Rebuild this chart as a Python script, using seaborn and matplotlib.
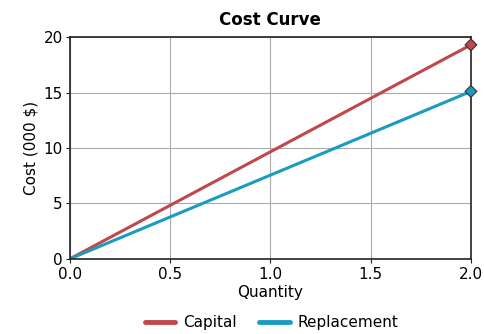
import pandas as pd
import matplotlib
matplotlib.use("Agg")
import matplotlib.pyplot as plt
import seaborn as sns

quantity = [0.0, 2.0]
capital = [0.0, 19.3]
replacement = [0.0, 15.1]
series_names = ["Capital", "Replacement"]
colors = {"Capital": "#c0474a", "Replacement": "#1a9bbf"}

df = pd.DataFrame({
    "Quantity": quantity * 2,
    "Cost": capital + replacement,
    "Series": [series_names[0]] * len(quantity) + [series_names[1]] * len(quantity),
})

sns.set_style("white")
plt.rcParams['font.family'] = ['DejaVu Sans']
plt.rcParams['text.color'] = 'black'
plt.rcParams['axes.labelcolor'] = 'black'
plt.rcParams['xtick.color'] = 'black'
plt.rcParams['ytick.color'] = 'black'

fig = plt.figure(figsize=(4.85, 3.34), dpi=100)
ax = fig.add_axes([0.144, 0.225, 0.827, 0.664])

sns.lineplot(data=df, x="Quantity", y="Cost", hue="Series", palette=colors,
             linewidth=2.2, ax=ax, legend=False)
# diamond markers at end points
last = df.groupby("Series").tail(1)
sns.scatterplot(data=last, x="Quantity", y="Cost", hue="Series", palette=colors,
                marker="D", s=36, edgecolor="#333333", linewidth=0.8,
                ax=ax, legend=False, zorder=5, clip_on=False)

ax.set_xlim(0, 2)
ax.set_ylim(0, 20)
ax.set_xticks([0, 0.5, 1.0, 1.5, 2.0])
ax.set_xticklabels(["0.0", "0.5", "1.0", "1.5", "2.0"])
ax.set_yticks([0, 5, 10, 15, 20])
ax.grid(True, color="#aaaaaa", linewidth=0.8)
ax.set_axisbelow(True)
for s in ax.spines.values():
    s.set_color("#222222")
    s.set_linewidth(1.2)
ax.tick_params(axis="both", length=3, direction="out", color="#222222",
               labelsize=11, bottom=True, left=True)
ax.tick_params(axis="x", pad=3)
ax.tick_params(axis="y", pad=2)
ax.set_xlabel("Quantity", fontsize=11, labelpad=2)
ax.set_ylabel("Cost (000 $)", fontsize=11, labelpad=4)
ax.set_title("Cost Curve", fontsize=12, fontweight="bold", pad=9)

handles = [plt.Line2D([], [], color=colors[n], linewidth=3.5) for n in series_names]
fig.legend(handles, series_names, loc="lower center", ncol=2, frameon=False,
           fontsize=11, bbox_to_anchor=(0.56, -0.03), handlelength=2,
           columnspacing=1.5, handletextpad=0.5)

fig.savefig("out.png", dpi=100)
